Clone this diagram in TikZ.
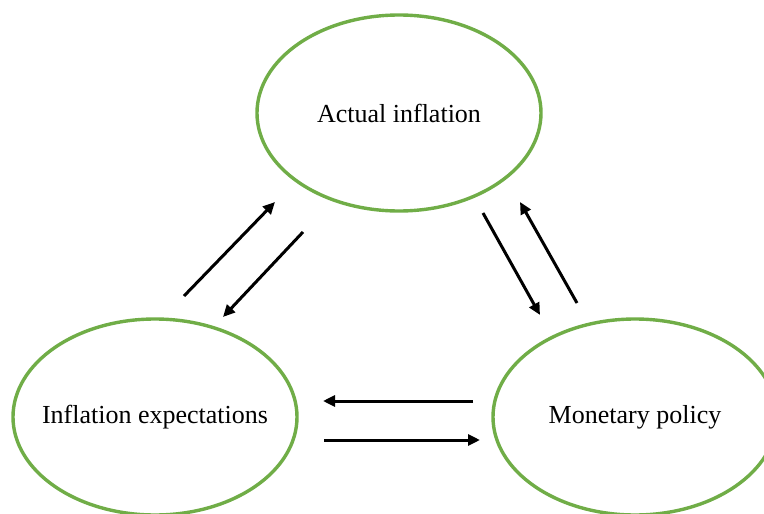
\documentclass[tikz,border=0pt]{standalone}
\usepackage{fontspec}
\setmainfont{Liberation Serif}
\usepackage{xcolor}
\usetikzlibrary{positioning,shapes.geometric,arrows.meta}
\definecolor{ovalgreen}{RGB}{112,173,71}

\begin{document}
\begin{tikzpicture}[x=1pt, y=-1pt,
        oval/.style={ellipse, draw=ovalgreen, line width=3.4pt, fill=white,
                     minimum width=284pt, minimum height=196pt, inner sep=0pt,
                     label={[font=\fontsize{26}{31}\selectfont]center:#1}},
        arr/.style={-{Triangle[length=12pt, width=11pt]}, line width=3pt, black}
      ]
        \useasboundingbox (0,0) rectangle (764,514);
        \node[oval=Actual inflation] (actual) at (399,113) {};
        \node[oval=Inflation expectations] (expect) at (155,417) {};
        \node[oval=Monetary policy] (policy) at (635,417) {};
        % arrow ends
        \coordinate (ea1) at (184,296); \coordinate (ae1) at (275,202);
        \coordinate (ae2) at (303,232); \coordinate (ea2) at (223,317);
        \coordinate (ap1) at (483,213); \coordinate (pa1) at (540,315);
        \coordinate (pa2) at (577,303); \coordinate (ap2) at (520,202);
        \coordinate (pe1) at (473,401); \coordinate (ep1) at (323,401);
        \coordinate (ep2) at (324,440); \coordinate (pe2) at (480,440);
        \draw[arr] (ea1) -- (ae1);
        \draw[arr] (ae2) -- (ea2);
        \draw[arr] (ap1) -- (pa1);
        \draw[arr] (pa2) -- (ap2);
        \draw[arr] (pe1) -- (ep1);
        \draw[arr] (ep2) -- (pe2);
      \end{tikzpicture}
\end{document}
